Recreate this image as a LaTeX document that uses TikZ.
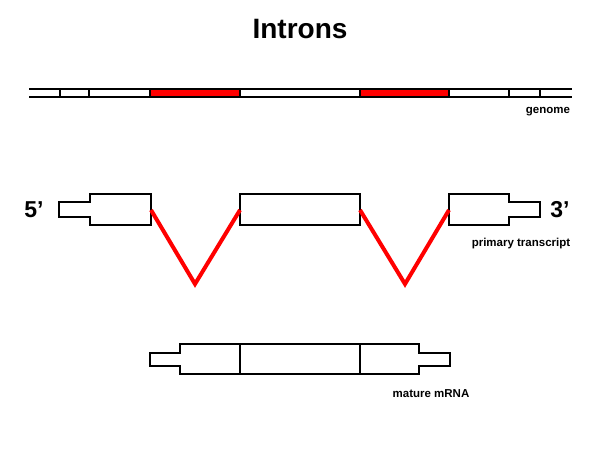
\documentclass[tikz,border=0pt]{standalone}
\usepackage{fontspec}
\setmainfont{Liberation Sans}
\definecolor{intron}{RGB}{255,0,0}
\tikzset{
  seg/.style={draw=black,line width=2pt,fill=white,line join=miter},
  dna/.style={draw=black,line width=2pt},
  splice/.style={draw=intron,line width=4pt,line join=miter},
  ttl/.style={font=\bfseries\fontsize{28}{32}\selectfont,anchor=base},
  prime/.style={font=\bfseries\fontsize{23}{26}\selectfont,anchor=base},
  lbl/.style={font=\bfseries\fontsize{11.5}{13}\selectfont,anchor=base},
}
\begin{document}
\begin{tikzpicture}[x=1pt,y=-1pt]
  \useasboundingbox (0,0) rectangle (600,450);
  \node[ttl] (title) at (300,38) {Introns};

  % genome
  \fill[intron] (150,89) rectangle (240,97);
  \fill[intron] (360,89) rectangle (449,97);
  \draw[dna] (29,89) -- (572,89);
  \draw[dna] (29,97) -- (572,97);
  \foreach \x in {60,89,150,240,360,449,509,540}
    \draw[dna] (\x,89) -- (\x,97);
  \node[lbl] (genome) at (548,113) {genome};

  % primary transcript
  \draw[seg] (59,202) -- (90,202) -- (90,194) -- (151,194) -- (151,225)
    -- (90,225) -- (90,217) -- (59,217) -- cycle;
  \draw[seg] (240,194) rectangle (360,225);
  \draw[seg] (449,194) -- (509,194) -- (509,202) -- (540,202) -- (540,217)
    -- (509,217) -- (509,225) -- (449,225) -- cycle;
  \coordinate (ex1) at (151,210);
  \coordinate (ex2w) at (240,210);
  \coordinate (ex2e) at (360,210);
  \coordinate (ex3) at (449,210);
  \coordinate (in1) at (195,284);
  \coordinate (in2) at (405,284);
  \draw[splice] (ex1) -- (in1) -- (ex2w);
  \draw[splice] (ex2e) -- (in2) -- (ex3);
  \node[prime] (five) at (34,217) {5’};
  \node[prime] (three) at (560,217) {3’};
  \node[lbl] (primary) at (521,246) {primary transcript};

  % mature mRNA
  \draw[seg] (150,353) -- (180,353) -- (180,344) -- (419,344) -- (419,353)
    -- (450,353) -- (450,366) -- (419,366) -- (419,374) -- (180,374)
    -- (180,366) -- (150,366) -- cycle;
  \foreach \x in {240,360}
    \draw[dna] (\x,344) -- (\x,374);
  \node[lbl] (mature) at (431,397) {mature mRNA};
\end{tikzpicture}
\end{document}
